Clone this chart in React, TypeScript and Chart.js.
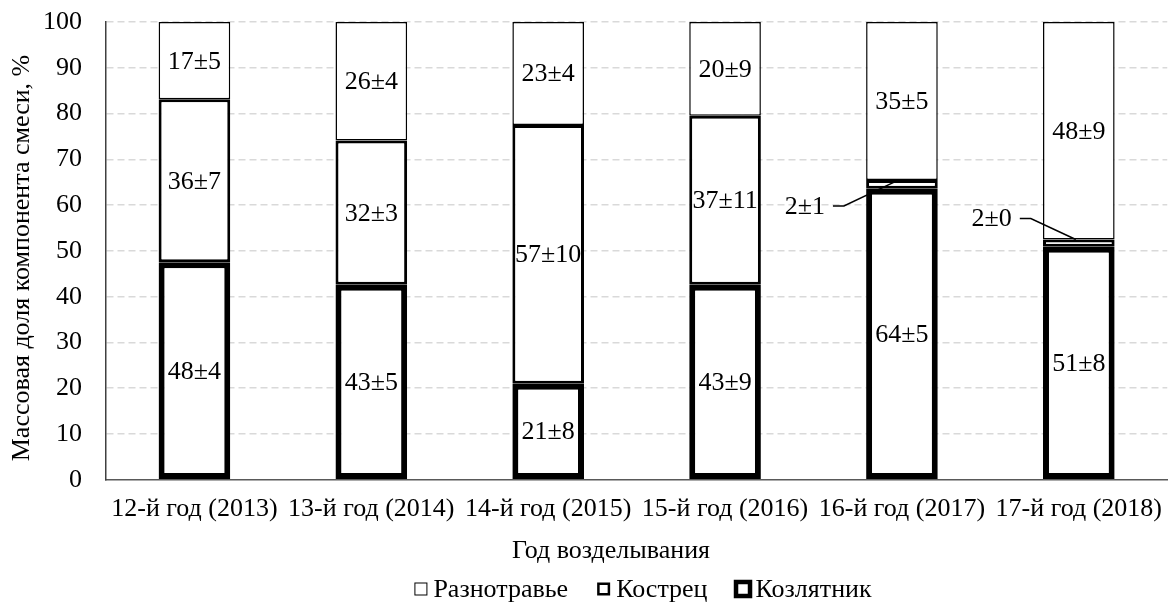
import React, { useEffect, useRef } from 'react';
import { Chart, registerables } from 'chart.js';

Chart.register(...registerables);

const FONT = "'Liberation Serif', 'Times New Roman', serif";
const FS = 26;

const categories = [
  '12-й год (2013)',
  '13-й год (2014)',
  '14-й год (2015)',
  '15-й год (2016)',
  '16-й год (2017)',
  '17-й год (2018)',
];

const seriesNames = ['Козлятник', 'Кострец', 'Разнотравье'];

const kozlyatnik = [47.5, 42.6, 21.0, 42.6, 63.6, 50.9];
const kostrets = [35.6, 31.5, 56.5, 36.9, 1.9, 1.6];
const raznotravie = [16.9, 25.9, 22.5, 20.5, 34.5, 47.5];

const kozlLabels = ['48±4', '43±5', '21±8', '43±9', '64±5', '51±8'];
const kostrLabels = ['36±7', '32±3', '57±10', '37±11', '2±1', '2±0'];
const raznLabels = ['17±5', '26±4', '23±4', '20±9', '35±5', '48±9'];

const yTitle = 'Массовая доля компонента смеси, %';
const xTitle = 'Год возделывания';

const borderWidths = [6, 3, 1.5];
const legendLineWidths = [4.5, 2.5, 1];

const customPlugin = {
  id: 'custom',
  afterDatasetsDraw(chart: any, _args: any, opts: any) {
    const ctx = chart.ctx as CanvasRenderingContext2D;
    ctx.save();
    ctx.font = `${FS}px ${FONT}`;
    ctx.fillStyle = '#000';
    ctx.textBaseline = 'middle';
    const labelSets = [kozlLabels, kostrLabels, raznLabels];
    chart.data.datasets.forEach((_ds: any, di: number) => {
      const meta = chart.getDatasetMeta(di);
      meta.data.forEach((el: any, i: number) => {
        const text = labelSets[di][i];
        const co = opts.callouts[`${di}-${i}`];
        if (co) {
          const ax = el.x + co.ax;
          const ay = el.y;
          const ex = ax + co.dx;
          const ey = ay + co.dy;
          ctx.beginPath();
          ctx.lineWidth = 1.5;
          ctx.strokeStyle = '#000';
          ctx.moveTo(ax, ay);
          ctx.lineTo(ex, ey);
          ctx.lineTo(ex - 11, ey);
          ctx.stroke();
          ctx.textAlign = 'right';
          ctx.fillText(text, ex - 19, ey + 1);
        } else {
          ctx.textAlign = 'center';
          ctx.fillText(text, el.x, (el.y + el.base) / 2 + 1);
        }
      });
    });
    ctx.restore();
  },
  afterDraw(chart: any, _args: any, opts: any) {
    const ctx = chart.ctx as CanvasRenderingContext2D;
    ctx.save();
    ctx.font = `${FS}px ${FONT}`;
    ctx.fillStyle = '#000';
    ctx.textBaseline = 'middle';
    ctx.textAlign = 'center';
    ctx.fillText(xTitle, opts.xTitleX, opts.xTitleY);
    ctx.save();
    ctx.translate(opts.yTitleX, opts.yTitleY);
    ctx.rotate(-Math.PI / 2);
    ctx.fillText(yTitle, 0, 0);
    ctx.restore();
    const order = [2, 1, 0];
    const box = 13;
    const gapText = 6;
    const gapItem = 29;
    const widths = order.map((d) => ctx.measureText(seriesNames[d]).width);
    const total = widths.reduce((a, w) => a + box + gapText + w, 0) + gapItem * (order.length - 1);
    let x = opts.legendX - total / 2;
    const y = opts.legendY;
    ctx.textAlign = 'left';
    order.forEach((d, k) => {
      const lw = legendLineWidths[d];
      ctx.fillStyle = '#fff';
      ctx.fillRect(x, y - box / 2, box, box);
      ctx.lineWidth = lw;
      ctx.strokeStyle = '#000';
      const o = d === 0 ? -0.5 : lw / 2;
      ctx.strokeRect(x + o, y - box / 2 + o, box - 2 * o, box - 2 * o);
      ctx.fillStyle = '#000';
      ctx.fillText(seriesNames[d], x + box + gapText, y + 1);
      x += box + gapText + widths[k] + gapItem;
    });
    ctx.restore();
  },
};

export default function App() {
  const ref = useRef<HTMLCanvasElement>(null);
  useEffect(() => {
    const datasets = [kozlyatnik, kostrets, raznotravie].map((data, i) => ({
      label: seriesNames[i],
      data,
      backgroundColor: '#ffffff',
      borderColor: '#000000',
      borderWidth: borderWidths[i],
      borderSkipped: false as const,
      barPercentage: 0.405,
      categoryPercentage: 1,
    }));
    const chart = new Chart(ref.current!, {
      type: 'bar',
      data: { labels: categories, datasets },
      plugins: [customPlugin as any],
      options: {
        animation: false,
        responsive: true,
        maintainAspectRatio: false,
        layout: { padding: { left: 43, right: 0, top: 22, bottom: 64 } },
        plugins: {
          legend: { display: false },
          tooltip: { enabled: false },
          custom: {
            callouts: {
              '1-4': { ax: -3, dx: -55, dy: 26 },
              '1-5': { ax: -3, dx: -45, dy: -21 },
            },
            xTitleX: 611,
            xTitleY: 551,
            yTitleX: 22,
            yTitleY: 258,
            legendX: 643,
            legendY: 589,
          },
        } as any,
        scales: {
          x: {
            stacked: true,
            grid: { display: false, drawTicks: false },
            border: { display: true, color: '#595959', width: 1.5 },
            ticks: {
              color: '#000',
              font: { family: FONT, size: FS },
              padding: 14,
              maxRotation: 0,
              autoSkip: false,
            },
          },
          y: {
            stacked: true,
            min: 0,
            max: 100,
            grid: {
              drawTicks: true,
              tickLength: 24,
              tickColor: 'rgba(0,0,0,0)',
              color: (c: any) => (c.tick && c.tick.value === 0 ? 'rgba(0,0,0,0)' : '#d9d9d9'),
              lineWidth: 1.5,
            },
            border: { display: true, color: '#404040', width: 1.5, dash: [7, 4] },
            ticks: {
              stepSize: 10,
              color: '#000',
              font: { family: FONT, size: FS },
              padding: 0,
            },
          },
        },
      },
    });
    return () => chart.destroy();
  }, []);
  return (
    <div style={{ position: 'fixed', left: 0, top: 0, width: 1176, height: 603, background: '#fff' }}>
      <canvas ref={ref} />
    </div>
  );
}
